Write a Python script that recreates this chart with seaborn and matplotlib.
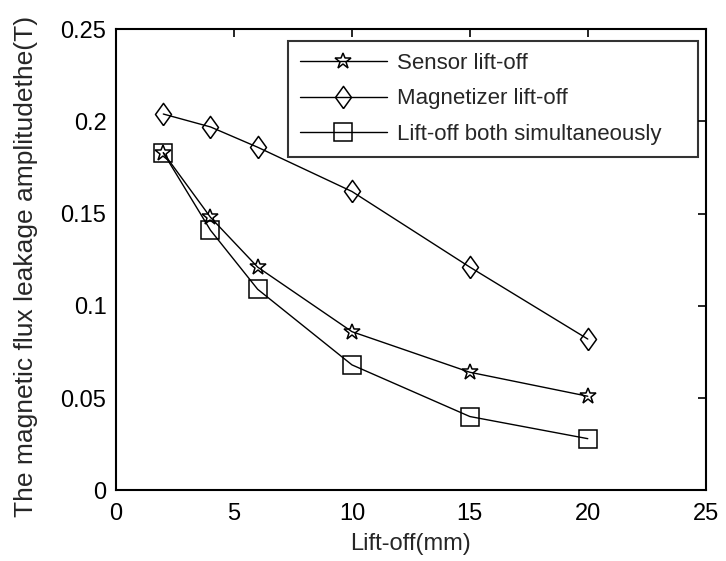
import matplotlib
matplotlib.use("Agg")
import matplotlib.pyplot as plt
import seaborn as sns
import pandas as pd

lift_off = [2, 4, 6, 10, 15, 20]
sensor = [0.183, 0.148, 0.121, 0.086, 0.064, 0.051]
magnetizer = [0.204, 0.197, 0.186, 0.162, 0.121, 0.082]
both = [0.183, 0.141, 0.109, 0.068, 0.040, 0.028]
labels = ["Sensor lift-off", "Magnetizer lift-off", "Lift-off both simultaneously"]

diamond = [(0, -1), (0.72, 0), (0, 1), (-0.72, 0), (0, -1)]
markers = ["*", diamond, "s"]
msizes = [12, 16, 12.5]

sns.set_theme(style="white")
plt.rcParams["font.family"] = ["Liberation Sans", "DejaVu Sans"]

fig = plt.figure(figsize=(7.26, 5.61), dpi=100)
ax = fig.add_axes([0.160, 0.126, 0.812, 0.822])

for vals, lab, mk, ms in zip([sensor, magnetizer, both], labels, markers, msizes):
    df = pd.DataFrame({"x": lift_off, "y": vals})
    sns.lineplot(data=df, x="x", y="y", ax=ax, color="black", linewidth=1.0,
                 marker=mk, markersize=ms, markerfacecolor="none",
                 markeredgecolor="black", markeredgewidth=1.1, label=lab)

ax.set_xlim(0, 25)
ax.set_ylim(0, 0.25)
ax.set_xticks([0, 5, 10, 15, 20, 25])
ax.set_yticks([0, 0.05, 0.1, 0.15, 0.2, 0.25])
ax.set_xticklabels(["0", "5", "10", "15", "20", "25"])
ax.set_yticklabels(["0", "0.05", "0.1", "0.15", "0.2", "0.25"])
ax.tick_params(direction="in", length=6, width=1.2, top=True, right=True,
               labelsize=17, colors="black")
ax.tick_params(axis="x", pad=9)
ax.tick_params(axis="y", pad=7)
for s in ax.spines.values():
    s.set_color("black")
    s.set_linewidth(1.5)
ax.set_xlabel("Lift-off(mm)", fontsize=17, labelpad=6)
ax.set_ylabel("The magnetic flux leakage amplitudethe(T)", fontsize=19)
ax.yaxis.set_label_coords(-0.133, 0.486)

leg = ax.legend(loc="upper left", bbox_to_anchor=(0.2915, 0.0, 0.695, 0.974),
                mode="expand", borderaxespad=0.0,
                fontsize=16, frameon=True, fancybox=False,
                edgecolor="black", handlelength=3.9, handletextpad=0.45,
                borderpad=0.54, labelspacing=0.64)
leg.get_frame().set_linewidth(1.5)

fig.savefig("out.png", dpi=100)
